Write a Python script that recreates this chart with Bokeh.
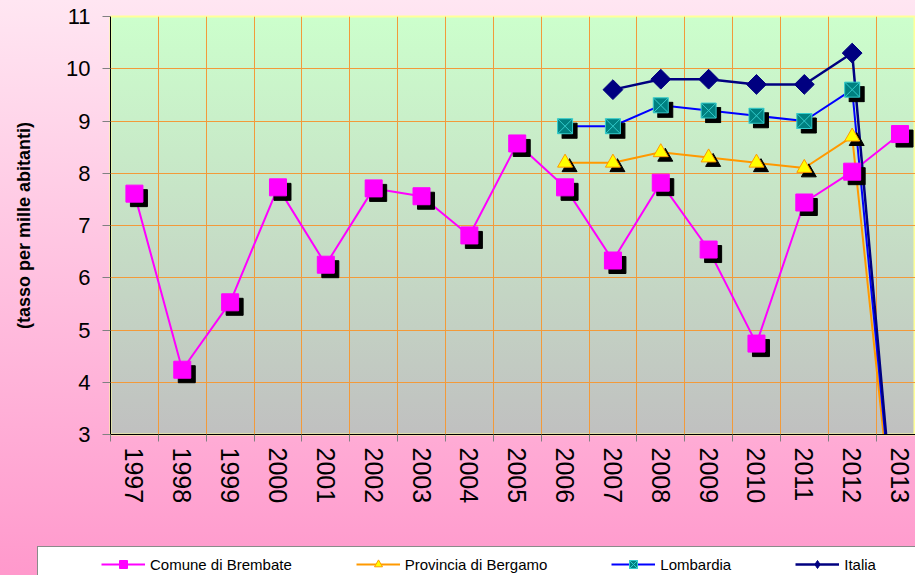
import numpy as np
from bokeh.plotting import figure
from bokeh.layouts import column
from bokeh.models import Range1d, FixedTicker, Legend, LegendItem, ColumnDataSource
from bokeh.transform import dodge
from bokeh.embed import file_html
from bokeh.resources import INLINE

# ---------------- data ----------------
years = list(range(1997, 2014))
comune = [7.61, 4.24, 5.53, 7.73, 6.25, 7.71, 7.56, 6.81, 8.57, 7.73,
          6.33, 7.82, 6.54, 4.74, 7.44, 8.03, 8.75]
years_prov = list(range(2006, 2014))
provincia = [8.2, 8.2, 8.4, 8.3, 8.2, 8.1, 8.7, 0.0]
years_lomb = list(range(2006, 2014))
lombardia = [8.9, 8.9, 9.3, 9.2, 9.1, 9.0, 9.6, 0.0]
years_ita = list(range(2007, 2014))
italia = [9.6, 9.8, 9.8, 9.7, 9.7, 10.3, 0.0]
y_ticks = [3, 4, 5, 6, 7, 8, 9, 10, 11]
series_names = ["Comune di Brembate", "Provincia di Bergamo", "Lombardia", "Italia"]
y_title = "(tasso per mille abitanti)"

boundaries = [y - 0.5 for y in years] + [years[-1] + 0.5]

FONT = "Liberation Sans"
W, H = 915, 575
H1 = 534                      # main chart height, legend strip below
ML, MT, MB = 110, 16, H1 - 434
FW, FH = W - ML, H1 - MT - MB

p = figure(width=W, height=H1, output_backend="svg", toolbar_location=None,
           x_range=Range1d(1996.5, 1996.5 + FW / 47.85), y_range=Range1d(3, 11),
           min_border_left=ML, min_border_right=0, min_border_top=MT,
           min_border_bottom=MB, border_fill_color=None, background_fill_color=None,
           outline_line_color="#FFFF99", outline_line_width=2)
p.frame_align = False

# grid
grid_col = "#F29A3A"
p.xgrid.ticker = FixedTicker(ticks=boundaries)
p.xgrid.grid_line_color = grid_col
p.ygrid.ticker = FixedTicker(ticks=y_ticks)
p.ygrid.grid_line_color = grid_col

# x axis
xa = p.xaxis[0]
xa.ticker = FixedTicker(ticks=years, minor_ticks=boundaries)
xa.major_label_overrides = {y: str(y) for y in years}
xa.major_tick_line_color = None
xa.major_tick_out = 0
xa.major_tick_in = 0
xa.minor_tick_out = 7
xa.minor_tick_in = 0
xa.minor_tick_line_color = "#808080"
xa.major_label_orientation = "vertical"
xa.major_label_text_font = FONT
xa.major_label_text_font_size = "25px"
xa.major_label_text_color = "black"
xa.major_label_standoff = 6
xa.axis_line_color = "black"

# y axis
ya = p.yaxis[0]
ya.ticker = FixedTicker(ticks=y_ticks)
ya.major_tick_out = 8
ya.major_tick_in = 0
ya.major_tick_line_color = "#808080"
ya.minor_tick_line_color = None
ya.major_label_text_font = FONT
ya.major_label_text_font_size = "22px"
ya.major_label_text_color = "black"
ya.major_label_standoff = 12
ya.axis_label = y_title
ya.axis_label_text_font = FONT
ya.axis_label_text_font_size = "18px"
ya.axis_label_text_font_style = "bold"
ya.axis_label_text_color = "black"
ya.axis_label_standoff = 29
ya.axis_line_color = "black"

dx, dy = 4.5 / 47.85, -4.5 / 52.25

specs = [
    (years, comune, dict(line_color="#FF00FF", line_width=2),
     dict(marker="square", size=17, fill_color="#FF00FF", line_color="#FF00FF"), True),
    (years_prov, provincia, dict(line_color="#FF9900", line_width=2),
     dict(marker="triangle", size=15, fill_color="#FFFF00", line_color="#FF9900"), True),
    (years_lomb, lombardia, dict(line_color="#0000FF", line_width=2),
     dict(marker="square_x", size=15, fill_color="#008080", line_color="#33CCCC"), True),
    (years_ita, italia, dict(line_color="#000080", line_width=2.5),
     dict(marker="square", size=14, angle=np.pi / 4, fill_color="#000080",
          line_color="#000080"), False),
]

sources = []
for xs, ys, lkw, mkw, shadow in specs:
    src = ColumnDataSource(dict(x=xs, y=ys))
    sources.append(src)
    p.line("x", "y", source=src, **lkw)

for (xs, ys, lkw, mkw, shadow), src in zip(specs, sources):
    if shadow:
        skw = {k: v for k, v in mkw.items() if k in ("marker", "size", "angle")}
        p.scatter(x=dodge("x", dx), y=dodge("y", dy), source=src, color="black", **skw)
    p.scatter("x", "y", source=src, **mkw)

# ---------------- legend strip ----------------
H2 = H - H1
p2 = figure(width=W, height=H2, output_backend="svg", toolbar_location=None,
            x_range=Range1d(0, 1), y_range=Range1d(0, 1),
            x_axis_location=None, y_axis_location=None,
            min_border_left=0, min_border_right=0, min_border_top=0, min_border_bottom=0,
            border_fill_color=None, background_fill_color=None, outline_line_color=None)
p2.frame_align = False
p2.grid.visible = False

items = []
empty = dict(x=[np.nan], y=[np.nan])
for (xs, ys, lkw, mkw, shadow), name in zip(specs, series_names):
    lsrc = ColumnDataSource(empty)
    lr = p2.line("x", "y", source=lsrc, **lkw)
    mk = {k: v for k, v in mkw.items() if k != "angle"}
    if "angle" in mkw:
        mk["marker"] = "diamond"
    mr = p2.scatter("x", "y", source=lsrc, **mk)
    items.append(LegendItem(label=name, renderers=[lr, mr]))

legend = Legend(items=items, orientation="horizontal", location=(101, 1),
                spacing=64, label_standoff=5, glyph_width=44, glyph_height=20,
                label_height=20, padding=0, margin=0, border_line_color=None,
                background_fill_alpha=0, label_text_font=FONT,
                label_text_font_size="15px", label_text_color="black")
p2.add_layout(legend, "center")

lay = column(p, p2, spacing=0)
lay.styles = {
    "background": (
        "linear-gradient(#FFFFFF,#FFFFFF) 38px 547px / 900px 40px no-repeat, "
        "linear-gradient(#8A8A8A,#8A8A8A) 37px 546px / 900px 40px no-repeat, "
        f"linear-gradient(#CCFFCC,#C0C0C0) {ML}px {MT}px / {FW}px {FH}px no-repeat, "
        "linear-gradient(#FFE6F2,#FF99CC)"
    )
}

open("out.html", "w").write(file_html(lay, INLINE))
